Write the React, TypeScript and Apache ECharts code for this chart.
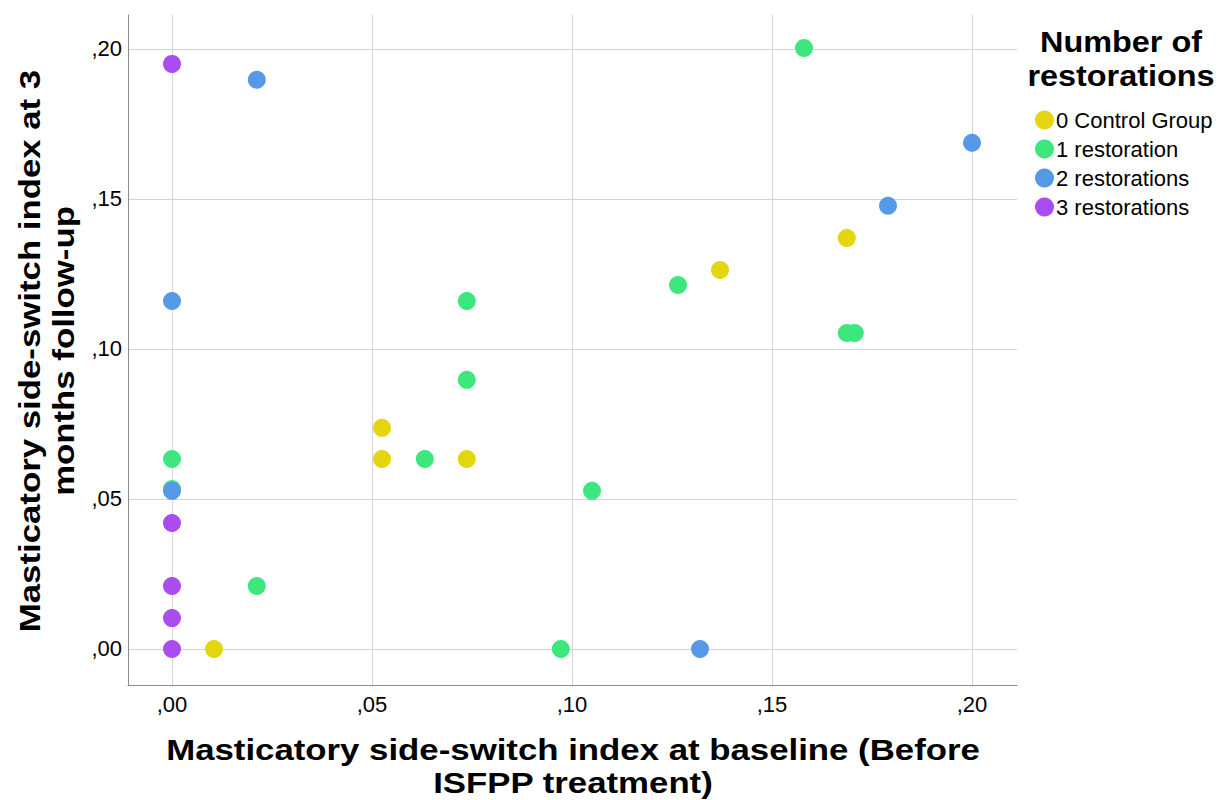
import React, { useEffect, useRef } from "react";
import * as echarts from "echarts";

// Data: [baseline index, 3-month index]
const controlGroup: number[][] = [
  [0.0105, 0.0], [0.0525, 0.0737], [0.0525, 0.0633], [0.0737, 0.0633],
  [0.137, 0.1263], [0.1687, 0.137],
];
const oneRestoration: number[][] = [
  [0.0, 0.0633], [0.0, 0.0533], [0.0212, 0.021], [0.0632, 0.0633],
  [0.0737, 0.116], [0.0737, 0.0897], [0.105, 0.0527], [0.0972, 0.0],
  [0.1265, 0.1213], [0.158, 0.2003], [0.1687, 0.1053], [0.1707, 0.1053],
];
const twoRestorations: number[][] = [
  [0.0212, 0.1897], [0.0, 0.116], [0.0, 0.0527], [0.132, 0.0],
  [0.179, 0.1477], [0.2, 0.1687],
];
const threeRestorations: number[][] = [
  [0.0, 0.195], [0.0, 0.042], [0.0, 0.021], [0.0, 0.0103], [0.0, 0.0],
];

const seriesNames = ["0 Control Group", "1 restoration", "2 restorations", "3 restorations"];
const seriesData = [controlGroup, oneRestoration, twoRestorations, threeRestorations];
const seriesColors = ["#E3D60F", "#3EE67E", "#5699E6", "#AB4CF3"];

const xTitle = "Masticatory side-switch index at baseline (Before\nISFPP treatment)";
const yTitle = "Masticatory side-switch index at 3\nmonths follow-up";
const legendTitle = "Number of\nrestorations";

const FONT = "'Liberation Sans', Arial, Helvetica, sans-serif";

const fmt = (v: number) => "," + String(Math.round(v * 100)).padStart(2, "0");

export default function App() {
  const ref = useRef<HTMLDivElement>(null);
  useEffect(() => {
    if (!ref.current) return;
    const chart = echarts.init(ref.current, undefined, { renderer: "svg" });
    chart.setOption({
      animation: false,
      backgroundColor: "#ffffff",
      textStyle: { fontFamily: FONT },
      grid: { left: 128, top: 15, right: 215, bottom: 115, containLabel: false },
      xAxis: {
        type: "value",
        min: -0.011,
        max: 0.21125,
        axisLine: { show: true, onZero: false, lineStyle: { color: "#8c8c8c", width: 1 } },
        axisTick: { show: false },
        axisLabel: {
          formatter: fmt,
          fontSize: 22,
          color: "#000",
          fontFamily: FONT,
          margin: 8,
          showMinLabel: false,
          showMaxLabel: false,
        },
        splitLine: {
          show: true,
          showMinLine: false,
          showMaxLine: false,
          lineStyle: { color: "#d4d4d4", width: 1 },
        },
      },
      yAxis: {
        type: "value",
        min: -0.012,
        max: 0.2113,
        axisLine: { show: true, onZero: false, lineStyle: { color: "#8c8c8c", width: 1 } },
        axisTick: { show: false },
        axisLabel: {
          formatter: fmt,
          fontSize: 22,
          color: "#000",
          fontFamily: FONT,
          margin: 6,
          showMinLabel: false,
          showMaxLabel: false,
        },
        splitLine: {
          show: true,
          showMinLine: false,
          showMaxLine: false,
          lineStyle: { color: "#d4d4d4", width: 1 },
        },
      },
      legend: {
        orient: "vertical",
        left: 1030,
        top: 104,
        itemWidth: 19,
        itemHeight: 19,
        itemGap: 7,
        icon: "circle",
        textStyle: { fontSize: 22, color: "#000", fontFamily: FONT, padding: [0, 0, 0, -3] },
        data: seriesNames,
      },
      graphic: [
        {
          type: "text",
          x: 573,
          y: 766,
          scaleX: 1.16,
          style: {
            text: xTitle,
            font: `bold 30px ${FONT}`,
            fill: "#000",
            textAlign: "center",
            textVerticalAlign: "middle",
            lineHeight: 33,
          },
        },
        {
          type: "text",
          x: 47,
          y: 351,
          rotation: Math.PI / 2,
          scaleX: 1.16,
          style: {
            text: yTitle,
            font: `bold 30px ${FONT}`,
            fill: "#000",
            textAlign: "center",
            textVerticalAlign: "middle",
            lineHeight: 34,
          },
        },
        {
          type: "text",
          x: 1121,
          y: 59,
          scaleX: 1.08,
          style: {
            text: legendTitle,
            font: `bold 30px ${FONT}`,
            fill: "#000",
            textAlign: "center",
            textVerticalAlign: "middle",
            lineHeight: 34,
          },
        },
      ],
      series: seriesNames.map((name, i) => ({
        name,
        type: "scatter",
        data: seriesData[i],
        symbol: "circle",
        symbolSize: 18,
        clip: false,
        itemStyle: { color: seriesColors[i], opacity: 1 },
        emphasis: { disabled: true },
      })),
    });
    return () => chart.dispose();
  }, []);
  return (
    <div
      ref={ref}
      style={{ position: "absolute", left: 0, top: 0, width: 1232, height: 800 }}
    />
  );
}
